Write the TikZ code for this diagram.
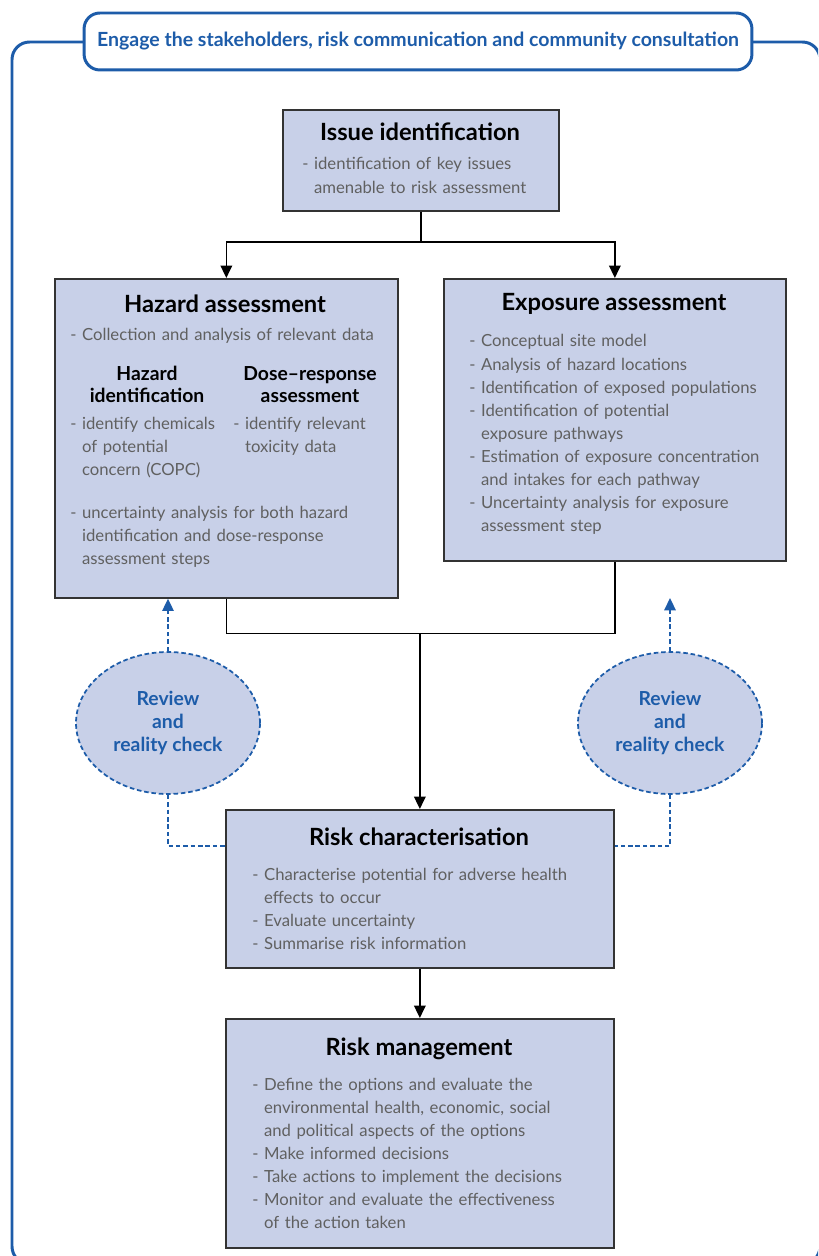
\documentclass[tikz,border=0pt]{standalone}
\usepackage{fontspec}
\setmainfont{Lato}
\usetikzlibrary{arrows.meta,shapes.geometric}

\definecolor{boxfill}{HTML}{C8D0E8}
\definecolor{riskblue}{HTML}{1D5CA9}
\definecolor{bodygray}{HTML}{606060}
\newcommand{\indt}{\phantom{- }}

\tikzset{
  stepbox/.style={draw=black!80, fill=boxfill, line width=1pt, inner sep=0pt, anchor=north west},
  boxtitle/.style={anchor=base, inner sep=0pt, font=\fontsize{13.5}{16}\selectfont\bfseries, text=black},
  subtitle/.style={anchor=base, inner sep=0pt, text width=3.2cm, align=center, font=\fontsize{11}{12.6}\selectfont\bfseries, text=black},
  boxtext/.style={anchor=base west, inner sep=0pt, align=left, font=\fontsize{9.5}{13.1}\selectfont, text=bodygray},
  flow/.style={black, line width=0.9pt},
  arrow/.style={flow, -{Triangle[length=7pt,width=6.5pt]}},
  review/.style={ellipse, draw=riskblue, fill=boxfill, line width=1pt, dash pattern=on 2.6pt off 1.6pt,
    minimum width=3.68cm, minimum height=2.84cm, align=center, text=riskblue, font=\fontsize{11}{13.1}\selectfont\bfseries},
  reviewline/.style={riskblue, line width=1pt, dash pattern=on 2.6pt off 1.6pt},
}

\begin{document}
\begin{tikzpicture}[x=0.02cm, y=-0.02cm]
\useasboundingbox (0,0) rectangle (818,1256);
\clip (0,0) rectangle (818,1256);

% outer frame and banner
\draw[riskblue, line width=1.7pt, rounded corners=10pt] (12,42) rectangle (820,1264);
\node[draw=riskblue, fill=white, line width=1.7pt, rounded corners=9pt, minimum width=13.36cm, minimum height=1.14cm,
  text=riskblue, font=\fontsize{11.1}{12}\selectfont\bfseries] (banner) at (418,41.5)
  {Engage the stakeholders, risk communication and community consultation};

% boxes
\node[stepbox, minimum width=5.52cm, minimum height=2.02cm] (issue) at (282,109) {};
\node[stepbox, minimum width=6.86cm, minimum height=6.38cm] (hazard) at (54,278) {};
\node[stepbox, minimum width=6.84cm, minimum height=5.64cm] (exposure) at (443,278) {};
\node[stepbox, minimum width=7.76cm, minimum height=3.16cm] (riskchar) at (225,809) {};
\node[stepbox, minimum width=7.76cm, minimum height=4.58cm] (riskmgmt) at (225,1018) {};

% issue identification
\node[boxtitle] (issuetitle) at (420,141) {Issue identification};
\node[boxtext, text width=5.2cm] (issuetext) at (302,170)
  {- identification of key issues\\\indt amenable to risk assessment};

% hazard assessment
\node[boxtitle] (hazardtitle) at (225,313) {Hazard assessment};
\node[boxtext, text width=6.4cm] (hazardtext) at (70,341) {- Collection and analysis of relevant data};
\node[subtitle] (hazidtitle) at (147,380) {Hazard\\identification};
\node[subtitle] (dosetitle) at (310,380) {Dose--response\\assessment};
\node[boxtext, text width=3.2cm] (hazidtext) at (70,429)
  {- identify chemicals\\\indt of potential\\\indt concern (COPC)};
\node[boxtext, text width=3.2cm] (dosetext) at (233,429)
  {- identify relevant\\\indt toxicity data};
\node[boxtext, text width=6.4cm] (uncerttext) at (70,518)
  {- uncertainty analysis for both hazard\\\indt identification and dose-response\\\indt assessment steps};

% exposure assessment
\node[boxtitle] (exposuretitle) at (614,311) {Exposure assessment};
\node[boxtext, text width=6.2cm] (exposuretext) at (469,347)
  {- Conceptual site model\\
   - Analysis of hazard locations\\
   - Identification of exposed populations\\
   - Identification of potential\\\indt exposure pathways\\
   - Estimation of exposure concentration\\\indt and intakes for each pathway\\
   - Uncertainty analysis for exposure\\\indt assessment step};

% risk characterisation
\node[boxtitle] (riskchartitle) at (419,845) {Risk characterisation};
\node[boxtext, text width=7cm] (riskchartext) at (252,880)
  {- Characterise potential for adverse health\\\indt effects to occur\\
   - Evaluate uncertainty\\
   - Summarise risk information};

% risk management
\node[boxtitle] (riskmgmttitle) at (419,1055) {Risk management};
\node[boxtext, text width=7cm] (riskmgmttext) at (252,1090)
  {- Define the options and evaluate the\\\indt environmental health, economic, social\\\indt and political aspects of the options\\
   - Make informed decisions\\
   - Take actions to implement the decisions\\
   - Monitor and evaluate the effectiveness\\\indt of the action taken};

% review ellipses
\node[review] (revL) at (168,723) {Review\\and\\reality check};
\node[review] (revR) at (670,723) {Review\\and\\reality check};

% flow connectors
\path (issue.south) ++(0,30) coordinate (split);
\path (riskchar.north |- hazard.south) ++(0,35) coordinate (merge);
\draw[flow] (issue.south) -- (split);
\draw[arrow] (split) -| (hazard.north);
\draw[arrow] (split) -| (exposure.north);
\draw[flow] (hazard.south) |- (merge) -| (exposure.south);
\draw[arrow] (merge) -- (riskchar.north);
\draw[arrow] (riskchar.south) -- (riskmgmt.north);

% review connectors
\coordinate (revRtip) at (670,598);
\coordinate (revLfoot) at (168,846);
\coordinate (revRfoot) at (670,846);
\draw[reviewline, -{Triangle[length=7pt,width=6.5pt]}] (revL.north) -- (revL.north |- hazard.south);
\draw[reviewline, -{Triangle[length=7pt,width=6.5pt]}] (revR.north) -- (revRtip);
\draw[reviewline] (revL.south) -- (revLfoot) -- (revLfoot -| riskchar.west);
\draw[reviewline] (revR.south) -- (revRfoot) -- (revRfoot -| riskchar.east);
\end{tikzpicture}
\end{document}
